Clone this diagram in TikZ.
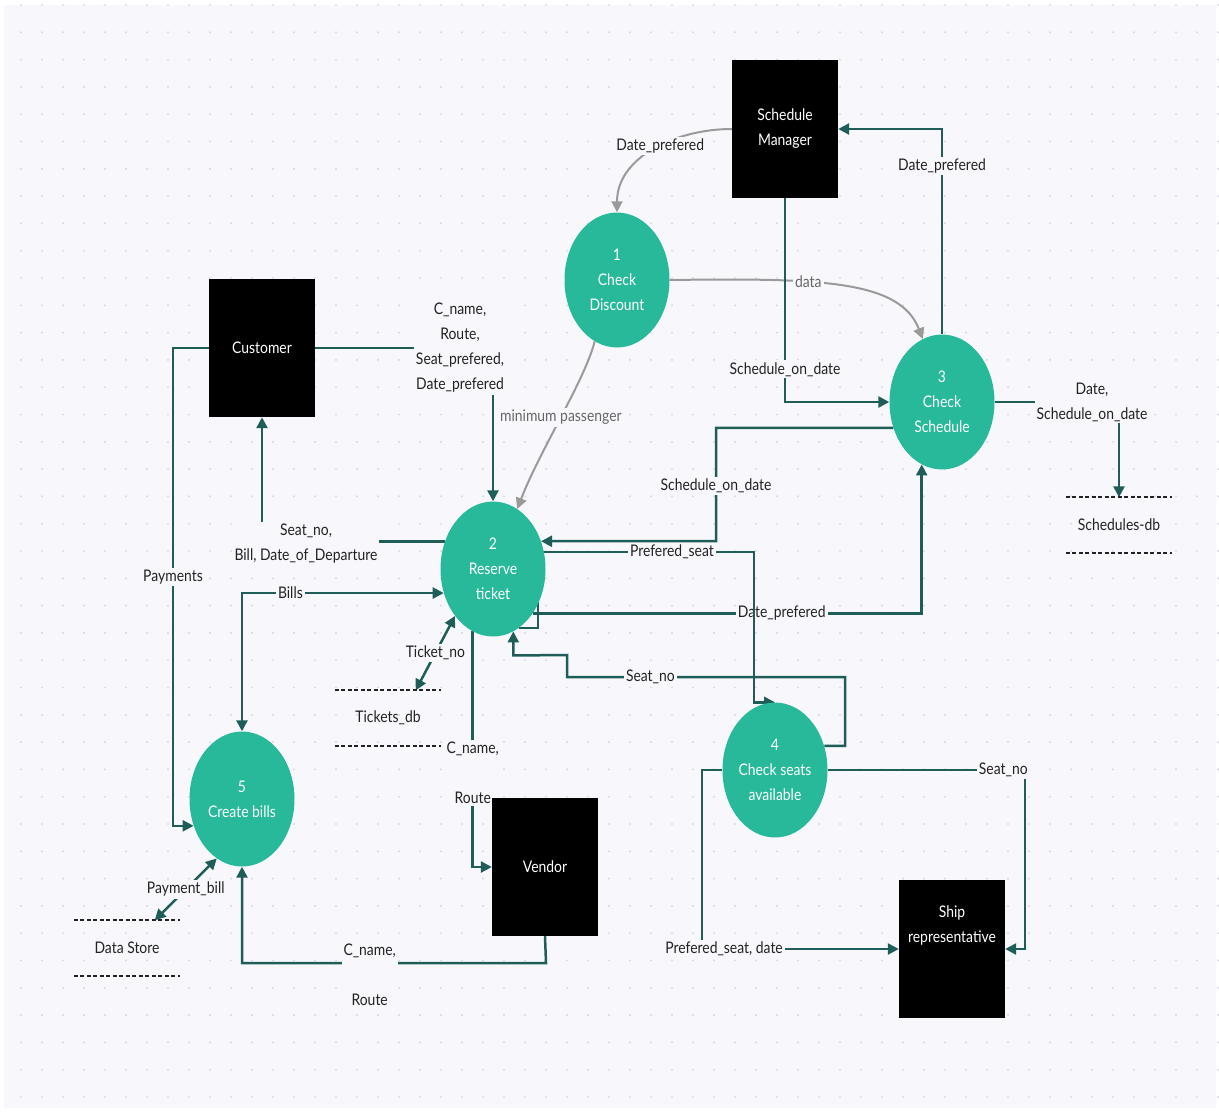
\documentclass[tikz,border=0pt]{standalone}
\usepackage{fontspec}
\setmainfont{Lato}[FakeStretch=0.87]
\usetikzlibrary{arrows.meta,shapes.geometric}

\definecolor{procc}{HTML}{27B99A}
\definecolor{flowc}{HTML}{1F5E58}
\definecolor{greyc}{HTML}{9A9A9A}
\definecolor{bgc}{HTML}{F8F8FC}
\definecolor{dotc}{HTML}{DCDCE4}
\definecolor{txtc}{HTML}{222222}

\pgfdeclarelayer{grid}
\pgfdeclarelayer{flows}
\pgfsetlayers{grid,flows,main}

\begin{document}
\begin{tikzpicture}[x=1pt,y=-1pt,>={Triangle[length=11pt,width=11pt]},
    font=\fontsize{16}{25}\selectfont,
    proc/.style={ellipse,fill=procc,text=white,minimum width=105pt,minimum height=135pt,inner sep=0pt,align=center},
    ext/.style={rectangle,fill=black,text=white,minimum width=106pt,minimum height=138pt,inner sep=0pt,align=center},
    store/.style={rectangle,minimum width=106pt,minimum height=55pt,inner sep=0pt,text=txtc},
    storeline/.style={draw=txtc,line width=2pt,dash pattern=on 4pt off 2.5pt},
    flow/.style={draw=flowc,line width=2.5pt},
    hint/.style={draw=greyc,line width=2pt},
    lbl/.style={fill=bgc,inner sep=2pt,text=txtc,align=center},
    glbl/.style={lbl,text=black!60},
    wide/.style={lbl,font=\fontsize{16}{50}\selectfont}]
    \useasboundingbox (0,0) rectangle (1219,1112);
    \begin{pgfonlayer}{grid}
    \fill[white] (0,0) rectangle (1219,1112);
    \fill[bgc] (4,5) rectangle (1216,1108);
    \foreach \i in {0,...,57}
        \foreach \j in {0,...,40}
            \fill[dotc] (21+21*\i,5+27.3*\j) circle (1.2pt);
    \end{pgfonlayer}

    \node[ext] (sm) at (785,129) {Schedule\\Manager};
    \node[ext] (cust) at (262,348) {Customer};
    \node[ext] (ven) at (545,867) {Vendor};
    \node[ext] (ship) at (952,949) {Ship\\representative\\~\\~};

    \node[proc] (cd) at (617,280) {1\\Check\\Discount};
    \node[proc] (rt) at (493,569) {2\\Reserve\\ticket};
    \node[proc] (cs) at (942,402) {3\\Check\\Schedule};
    \node[proc] (ca) at (775,770) {4\\Check seats\\available};
    \node[proc] (cb) at (242,799) {5\\Create bills};

    \node[store] (sdb) at (1119,525) {Schedules-db};
    \node[store] (tdb) at (388,718) {Tickets\_db};
    \node[store] (ds) at (127,948) {Data Store};
    \foreach \s in {sdb,tdb,ds} {
        \draw[storeline] (\s.north west) -- (\s.north east);
        \draw[storeline] (\s.south west) -- (\s.south east);
    }

    \begin{pgfonlayer}{flows}
    \draw[hint,->] (sm.west) .. controls (676,129) and (617,157) .. node[lbl,pos=0.45] {Date\_prefered} (cd.north);
    \draw[hint,->] (cd.east) .. controls (820,278) and (900,280) .. node[glbl,pos=0.37] {data} (cs.107);
    \draw[hint,->] (cd.250) .. controls (585,380) and (540,450) .. node[glbl] {minimum passenger} (rt.68);

    \draw[flow,->] (sm.south) |- node[lbl,pos=0.42] {Schedule\_on\_date} (cs.west);
    \draw[flow,->] (cs.north) |- node[lbl,pos=0.41] {Date\_prefered} (sm.east);
    \draw[flow,->] (cs.east) -| node[lbl,xshift=-27pt] {Date,\\Schedule\_on\_date} (sdb.north);
    \draw[flow,->] (cs.208) -| node[lbl,pos=0.755] {Schedule\_on\_date} (716,541) -- (rt.30);

    \draw[flow,->] (cust.east) -| node[lbl,xshift=-33pt] {C\_name,\\Route,\\Seat\_prefered,\\Date\_prefered} (rt.north);
    \draw[flow,->] (rt.150) -| node[lbl,xshift=44pt,yshift=-2pt] {Seat\_no,\\Bill, Date\_of\_Departure} (cust.south);
    \draw[flow,->] (cust.west) -- (173,348) |- node[lbl,pos=0.24] {Payments} (cb.209);
    \draw[flow,<->] (cb.north) |- node[lbl,pos=0.62] {Bills} (rt.206);
    \draw[flow,<->] (tdb.45) -- node[lbl] {Ticket\_no} (rt.231);
    \draw[flow,<->] (ds.45) -- node[lbl] {Payment\_bill} (cb.247);

    \draw[flow,->] (rt.252) |- node[wide,pos=0.3] {C\_name,\\Route} (ven.west);
    \draw[flow,->] (ven.south) -- (546,963) -| node[wide,pos=0.29,yshift=-12pt] {C\_name,\\Route} (cb.south);

    \draw[flow,->] (rt.-48) -| node[lbl,pos=0.32] {Date\_prefered} (cs.252);
    \draw[flow,->] (rt.-66) -| (538,552) -- node[lbl,pos=0.62] {Prefered\_seat} (754,552) |- (ca.north);
    \draw[flow,->] (ca.26) -| (845,677) -| node[lbl,pos=0.35] {Seat\_no} (567,655) -- ([yshift=-24pt]rt.-72) -- (rt.-72);
    \draw[flow,->] (ca.east) -- node[lbl,pos=0.89] {Seat\_no} (1025,770) |- (ship.east);
    \draw[flow,->] (ca.west) -- (702,770) |- node[lbl,pos=0.556] {Prefered\_seat, date} (ship.west);
    \end{pgfonlayer}
\end{tikzpicture}
\end{document}
